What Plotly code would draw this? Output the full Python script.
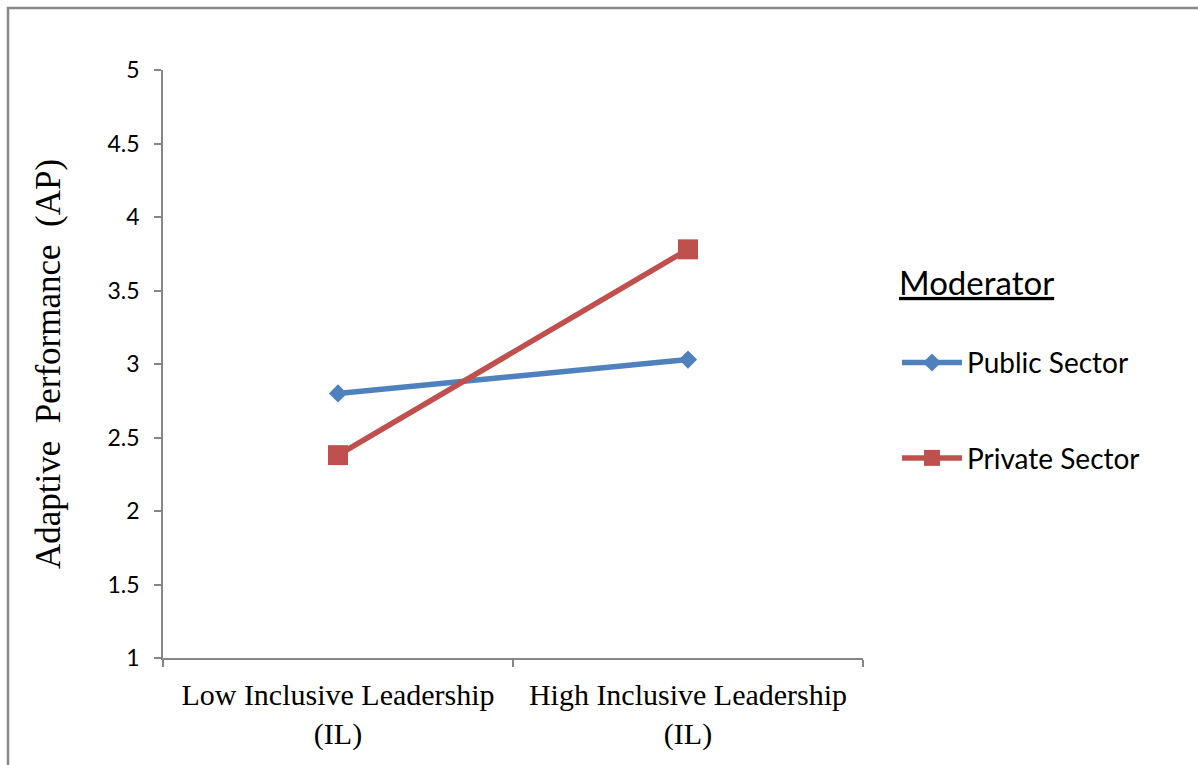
import plotly.graph_objects as go

categories = ["Low Inclusive Leadership<br>(IL)", "High Inclusive Leadership<br>(IL)"]
public_sector = [2.80, 3.03]
private_sector = [2.38, 3.78]
y_ticks = [1, 1.5, 2, 2.5, 3, 3.5, 4, 4.5, 5]

W, H = 1198, 765
L, R, T, B = 163, 335, 70, 107
pw, ph = W - L - R, H - T - B

def px(x):
    return (x - L) / pw

def py(y):
    return (H - B - y) / ph

fig = go.Figure()
fig.add_trace(go.Scatter(
    x=categories, y=public_sector, name="Public Sector", mode="lines+markers",
    line=dict(color="#4F81BD", width=5.5),
    marker=dict(symbol="diamond", size=14, color="#4F81BD"),
    legendgroup="a",
))
fig.add_trace(go.Scatter(
    x=categories, y=private_sector, name="Private Sector", mode="lines+markers",
    line=dict(color="#C0504D", width=5.5),
    marker=dict(symbol="square", size=20, color="#C0504D"),
    legendgroup="b",
))

axis_color = "#868686"
fig.update_layout(
    width=W, height=H,
    margin=dict(l=L, r=R, t=T, b=B),
    paper_bgcolor="white", plot_bgcolor="white",
    showlegend=True,
    legend=dict(
        x=px(897), y=py(252), xanchor="left", yanchor="top",
        title=dict(text="<u>Moderator</u><br> ", font=dict(family="Lato", size=33, color="#000")),
        font=dict(family="Lato", size=28, color="#000"),
        tracegroupgap=56,
        itemwidth=60,
        bgcolor="rgba(0,0,0,0)",
    ),
    xaxis=dict(
        type="category", range=[-0.5, 1.5],
        showline=True, linecolor=axis_color, linewidth=1.8,
        ticks="outside", ticklen=7, tickcolor=axis_color, tickwidth=1.8,
        tickson="boundaries", showgrid=False, zeroline=False,
        ticklabelstandoff=9,
        tickfont=dict(family="Liberation Serif", size=30, color="#000"),
    ),
    yaxis=dict(
        range=[1, 5], tickvals=y_ticks, ticktext=[f"{v:g}" for v in y_ticks],
        showline=True, linecolor=axis_color, linewidth=1.8,
        ticks="outside", ticklen=7, tickcolor=axis_color, tickwidth=1.8,
        showgrid=False, zeroline=False,
        ticklabelstandoff=10,
        tickfont=dict(family="Lato", size=23, color="#000"),
        title=dict(text="Adaptive  Performance  (AP)", standoff=36,
                   font=dict(family="Liberation Serif", size=35, color="#000")),
    ),
    shapes=[dict(
        type="rect", xref="paper", yref="paper",
        x0=px(8), x1=px(1260), y0=py(830), y1=py(8),
        line=dict(color="#888888", width=2.5), fillcolor="rgba(0,0,0,0)",
        layer="below",
    )],
)

fig.write_html("out.html")
